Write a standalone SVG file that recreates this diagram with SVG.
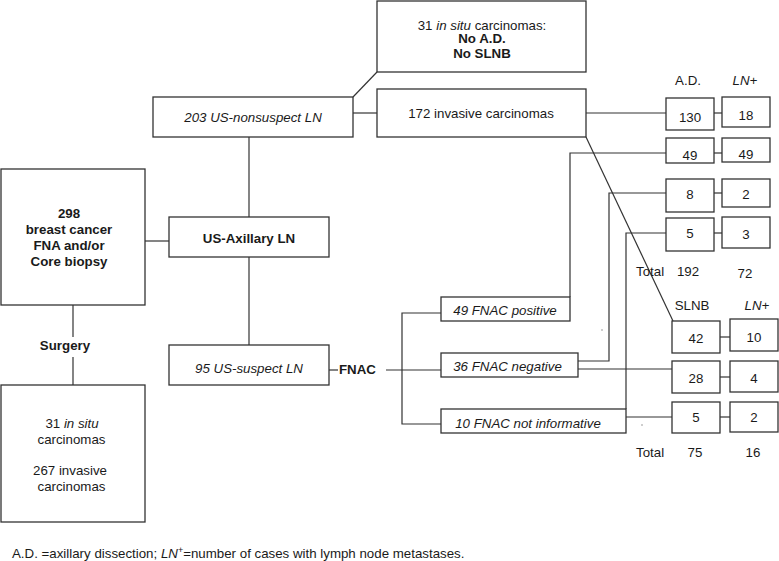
<svg xmlns="http://www.w3.org/2000/svg" width="779" height="561" viewBox="0 0 779 561">
<style>
rect{fill:#fff;stroke:#333;stroke-width:1.3}
line,polyline{stroke:#333;stroke-width:1.2;fill:none}
text{font-family:"Liberation Sans",Arial,sans-serif;font-size:13.3px;fill:#1a1a1a}
.c{text-anchor:middle}
.b{font-weight:bold}
.i{font-style:italic}
</style>
<rect x="0" y="0" width="779" height="561" style="stroke:none;fill:#fff"/>
<g id="connectors">
<line x1="353" y1="97" x2="377" y2="72"/>
<line x1="353" y1="113" x2="377" y2="113"/>
<line x1="249" y1="137" x2="249" y2="217"/>
<line x1="137" y1="241" x2="169" y2="241"/>
<line x1="249" y1="257" x2="249" y2="345"/>
<line x1="73" y1="305" x2="73" y2="337"/>
<line x1="73" y1="357" x2="73" y2="385"/>
<line x1="329" y1="370" x2="338" y2="370"/>
<line x1="386" y1="370" x2="441" y2="370"/>
<polyline points="441,313 402,313 402,424 441,424"/>
<line x1="586" y1="113" x2="666" y2="113"/>
<line x1="586" y1="137" x2="673" y2="321"/>
<polyline points="570,297 570,153 666,153"/>
<polyline points="578,361 609,361 609,193 666,193"/>
<line x1="578" y1="369" x2="672" y2="369"/>
<polyline points="626,409 626,233 666,233"/>
<line x1="626" y1="417" x2="672" y2="417"/>
<line x1="714" y1="113" x2="722" y2="113"/>
<line x1="714" y1="153" x2="722" y2="153"/>
<line x1="714" y1="193" x2="722" y2="193"/>
<line x1="714" y1="233" x2="722" y2="233"/>
<line x1="720" y1="337" x2="730" y2="337"/>
<line x1="720" y1="377" x2="730" y2="377"/>
<line x1="720" y1="417" x2="730" y2="417"/>
</g>
<g id="n-start">
<rect x="1" y="169" width="144" height="136"/>
<text class="c b" x="69" y="217.5">298</text>
<text class="c b" x="69" y="233.5">breast cancer</text>
<text class="c b" x="69" y="249.5">FNA and/or</text>
<text class="c b" x="69" y="265.5">Core biopsy</text>
</g>
<g id="n-surgery"><text class="c b" x="65" y="350">Surgery</text></g>
<g id="n-result">
<rect x="1" y="385" width="144" height="137"/>
<text class="c" x="72" y="428">31 <tspan class="i">in situ</tspan></text>
<text class="c" x="71.5" y="444">carcinomas</text>
<text class="c" x="70" y="475">267 invasive</text>
<text class="c" x="71.5" y="491">carcinomas</text>
</g>
<g id="n-axillary">
<rect x="169" y="217" width="160" height="40"/>
<text class="c b" x="249" y="243">US-Axillary LN</text>
</g>
<g id="n-nonsuspect">
<rect x="153" y="97" width="200" height="40"/>
<text class="c i" x="253" y="122">203 US-nonsuspect LN</text>
</g>
<g id="n-suspect">
<rect x="169" y="345" width="160" height="40"/>
<text class="c i" x="249" y="372.5">95 US-suspect LN</text>
</g>
<g id="n-fnac"><text class="b" x="339" y="374">FNAC</text></g>
<g id="n-insitu">
<rect x="377" y="1" width="209" height="71"/>
<text class="c" x="482" y="30">31 <tspan class="i">in situ</tspan> carcinomas:</text>
<text class="c b" x="482" y="43">No A.D.</text>
<text class="c b" x="482" y="58">No SLNB</text>
</g>
<g id="n-invasive">
<rect x="377" y="89" width="209" height="48"/>
<text class="c" x="481" y="118">172 invasive carcinomas</text>
</g>
<g id="n-pos">
<rect x="441" y="297" width="129" height="24"/>
<text class="c i" x="505" y="314.5">49 FNAC positive</text>
</g>
<g id="n-neg">
<rect x="441" y="353" width="137" height="24"/>
<text class="c i" x="507.5" y="370.5">36 FNAC negative</text>
</g>
<g id="n-noninf">
<rect x="441" y="409" width="185" height="24"/>
<text class="c i" x="528" y="428">10 FNAC not informative</text>
</g>
<g id="ad-table">
<text class="c" x="688" y="85">A.D.</text>
<text class="c i" x="745" y="85">LN+</text>
<rect x="666" y="98" width="48" height="32"/><text class="c" x="690" y="122">130</text>
<rect x="722" y="97" width="48" height="30"/><text class="c" x="746" y="120">18</text>
<rect x="666" y="138" width="48" height="25"/><text class="c" x="690" y="159.5">49</text>
<rect x="722" y="138" width="48" height="24"/><text class="c" x="746" y="158.5">49</text>
<rect x="666" y="179" width="48" height="33"/><text class="c" x="690" y="198.5">8</text>
<rect x="722" y="179" width="48" height="28"/><text class="c" x="746" y="198.5">2</text>
<rect x="666" y="218" width="48" height="33"/><text class="c" x="690" y="238">5</text>
<rect x="722" y="217" width="48" height="31"/><text class="c" x="746" y="238.5">3</text>
<text x="636" y="275.5">Total</text>
<text class="c" x="688" y="275.5">192</text>
<text class="c" x="745" y="278">72</text>
</g>
<g id="slnb-table">
<text class="c" x="692" y="309.5">SLNB</text>
<text class="c i" x="757" y="309.5">LN+</text>
<rect x="672" y="321" width="48" height="32"/><text class="c" x="696" y="343">42</text>
<rect x="730" y="319" width="48" height="32"/><text class="c" x="754" y="342">10</text>
<rect x="672" y="361" width="48" height="32"/><text class="c" x="696" y="383">28</text>
<rect x="730" y="361" width="48" height="31"/><text class="c" x="754" y="383">4</text>
<rect x="672" y="402" width="48" height="31"/><text class="c" x="696" y="422">5</text>
<rect x="730" y="402" width="48" height="30"/><text class="c" x="754" y="422">2</text>
<text x="636" y="456.5">Total</text>
<text class="c" x="695" y="456.5">75</text>
<text class="c" x="753" y="456.5">16</text>
</g>
<circle cx="602" cy="330" r="0.7" fill="#777"/>
<circle cx="642" cy="425" r="0.7" fill="#777"/>
<g id="footnote">
<text x="12" y="558">A.D. =axillary dissection; <tspan class="i">LN</tspan><tspan font-size="9" dy="-5">+</tspan><tspan dy="5">=number of cases with lymph node metastases.</tspan></text>
</g>
</svg>
